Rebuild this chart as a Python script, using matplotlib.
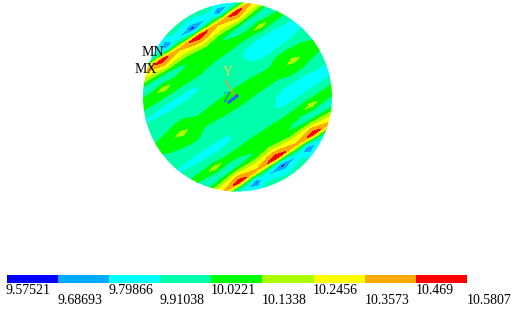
import matplotlib

matplotlib.use("Agg")
import matplotlib.pyplot as plt
import numpy as np
from matplotlib.patches import Circle

plt.rcParams["font.family"] = ["Liberation Serif", "DejaVu Serif"]

LEVELS = [9.57521, 9.68693, 9.79866, 9.91038, 10.0221, 10.1338, 10.2456, 10.3573, 10.469, 10.5807]
LEVEL_LABELS = ["9.57521", "9.68693", "9.79866", "9.91038", "10.0221",
                "10.1338", "10.2456", "10.3573", "10.469", "10.5807"]
COLORS = ["#0000ff", "#00aaff", "#00ffff", "#00ffaa", "#00ff00",
          "#aaff00", "#ffff00", "#ffaa00", "#ff0000"]

# field, along the stripes (u) and across them (v), in pixels
U_POS = [-97, -66, -57, -44, -31, -22, 0, 22, 31, 44, 57, 66, 97]
V_POS = [-97, -88, -82, -77, -72, -67, -62, -56, -47, -40, -30, -20, -10, 0,
         10, 20, 30, 40, 47, 56, 62, 67, 72, 77, 82, 88, 97]
FIELD = [
    [9.97, 9.97, 9.97, 9.97, 9.97, 9.97, 9.97, 9.97, 9.97, 9.97, 9.97, 9.97, 9.97],
    [9.97, 9.95, 9.94, 9.92, 9.85, 9.92, 9.85, 9.92, 9.85, 9.92, 9.94, 9.95, 9.97],
    [9.97, 9.90, 9.88, 9.85, 9.64, 9.84, 9.62, 9.84, 9.64, 9.85, 9.88, 9.90, 9.97],
    [10.02, 10.02, 10.02, 10.00, 9.92, 10.00, 9.92, 10.00, 9.92, 10.00, 10.02, 10.02, 10.02],
    [10.30, 10.36, 10.42, 10.54, 10.42, 10.38, 10.55, 10.38, 10.42, 10.54, 10.42, 10.36, 10.30],
    [10.20, 10.25, 10.28, 10.38, 10.30, 10.28, 10.40, 10.28, 10.30, 10.38, 10.28, 10.25, 10.20],
    [10.05, 10.10, 10.12, 10.15, 10.14, 10.12, 10.18, 10.12, 10.14, 10.15, 10.10, 10.06, 10.00],
    [9.88, 9.88, 9.88, 9.90, 9.98, 10.03, 10.06, 10.00, 9.94, 9.88, 9.88, 9.88, 9.90],
    [10.05, 10.12, 10.18, 10.09, 10.08, 10.08, 10.06, 10.08, 10.08, 10.09, 10.18, 10.12, 10.05],
    [10.02, 10.03, 10.03, 10.03, 10.03, 10.03, 10.00, 9.97, 9.94, 9.93, 9.93, 9.93, 9.95],
    [9.90, 9.86, 9.86, 9.86, 9.88, 9.93, 9.97, 9.93, 9.87, 9.86, 9.86, 9.86, 9.88],
    [9.96, 9.95, 9.95, 9.95, 9.96, 9.97, 9.98, 9.96, 9.92, 9.89, 9.89, 9.90, 9.93],
    [9.99, 10.03, 10.03, 9.98, 9.99, 10.00, 10.01, 10.01, 10.00, 10.00, 10.06, 10.06, 10.00],
    [10.05, 10.16, 10.12, 10.07, 10.08, 10.08, 10.09, 10.08, 10.08, 10.07, 10.12, 10.16, 10.05],
    [10.00, 10.06, 10.06, 10.00, 10.00, 10.01, 10.01, 10.00, 10.00, 10.00, 10.03, 10.03, 9.99],
    [9.97, 9.96, 9.96, 9.96, 9.96, 9.97, 9.98, 9.96, 9.92, 9.88, 9.88, 9.88, 9.92],
    [9.90, 9.87, 9.87, 9.87, 9.88, 9.93, 9.97, 9.93, 9.87, 9.86, 9.86, 9.86, 9.88],
    [9.97, 9.95, 9.95, 9.95, 9.96, 9.98, 10.00, 9.99, 9.99, 10.00, 10.00, 10.00, 10.02],
    [10.05, 10.12, 10.18, 10.09, 10.08, 10.08, 10.06, 10.08, 10.08, 10.09, 10.18, 10.12, 10.05],
    [9.90, 9.88, 9.88, 9.88, 9.94, 10.00, 10.06, 10.03, 9.98, 9.90, 9.88, 9.88, 9.88],
    [10.00, 10.06, 10.10, 10.15, 10.14, 10.12, 10.18, 10.12, 10.14, 10.15, 10.12, 10.10, 10.05],
    [10.20, 10.25, 10.28, 10.38, 10.30, 10.28, 10.40, 10.28, 10.30, 10.38, 10.28, 10.25, 10.20],
    [10.30, 10.36, 10.42, 10.54, 10.42, 10.38, 10.55, 10.38, 10.42, 10.54, 10.42, 10.36, 10.30],
    [10.02, 10.02, 10.02, 10.00, 9.92, 10.00, 9.92, 10.00, 9.92, 10.00, 10.02, 10.02, 10.02],
    [9.97, 9.90, 9.88, 9.85, 9.64, 9.84, 9.62, 9.84, 9.64, 9.85, 9.88, 9.90, 9.97],
    [9.97, 9.95, 9.94, 9.92, 9.85, 9.92, 9.85, 9.92, 9.85, 9.92, 9.94, 9.95, 9.97],
    [9.97, 9.97, 9.97, 9.97, 9.97, 9.97, 9.97, 9.97, 9.97, 9.97, 9.97, 9.97, 9.97],
]

CENTER = (237.5, 97.0)
RADIUS = 94.5
STRIPE_ANGLE = np.radians(33)

fig = plt.figure(figsize=(5.18, 3.09), dpi=100)
ax = fig.add_axes([0, 0, 1, 1])
ax.set_xlim(0, 518)
ax.set_ylim(309, 0)
ax.axis("off")

# stripe coordinates to image pixels
uu, vv = np.meshgrid(U_POS, V_POS)
xx = CENTER[0] + uu * np.cos(STRIPE_ANGLE) + vv * np.sin(STRIPE_ANGLE)
yy = CENTER[1] - uu * np.sin(STRIPE_ANGLE) + vv * np.cos(STRIPE_ANGLE)

disc = Circle(CENTER, RADIUS, transform=ax.transData, facecolor="none", edgecolor="none")
ax.add_patch(disc)
cs = ax.contourf(xx, yy, np.array(FIELD), levels=LEVELS, colors=COLORS)
cs.set_clip_path(disc)

# triad in the middle of the disc
ax.plot([225, 235], [80, 96], color="#e8a030", lw=0.9)
ax.plot([235, 237], [96, 95], color="#d04020", lw=0.9)
ax.plot([237, 229], [96, 102], color="#2060ff", lw=2.2)
ax.text(227.5, 72, "Y", color="#e6d840", fontsize=10, ha="center", va="center")
ax.text(227, 98, "Z", color="#2080c0", fontsize=10, ha="center", va="center")

ax.text(153, 52.5, "MN", color="black", fontsize=10, ha="center", va="center")
ax.text(146, 69.5, "MX", color="black", fontsize=10, ha="center", va="center")

# legend strip
bar_ax = fig.add_axes([6.5 / 518, 1 - 282.5 / 309, 460.5 / 518, 8 / 309])
bar_ax.set_xlim(0, 9)
bar_ax.set_ylim(0, 1)
bar_ax.axis("off")
bar_ax.bar(np.arange(len(COLORS)), 1, width=1, align="edge", color=COLORS)

for i, label in enumerate(LEVEL_LABELS):
    y_px = 290 if i % 2 == 0 else 300.5
    ax.text(6 + i * 51.2, y_px, label, color="black", fontsize=10, ha="left", va="center")

fig.savefig("out.png", dpi=100)
